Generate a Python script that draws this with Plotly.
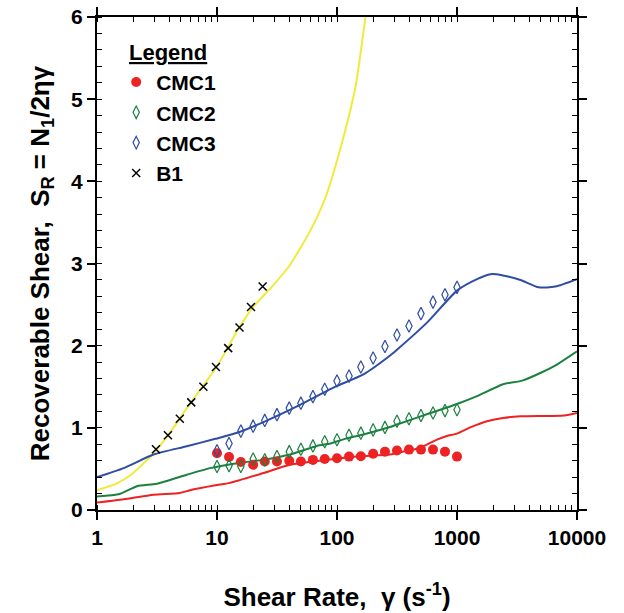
import plotly.graph_objects as go

# ---- data ----
b1_fit_x = [1, 1.5, 2, 3, 4, 6, 10, 15, 20, 30, 40, 60, 80, 110, 143, 175, 185]
b1_fit_y = [0.24, 0.33, 0.45, 0.70, 0.93, 1.30, 1.75, 2.20, 2.47, 2.75, 2.97, 3.40, 3.80, 4.47, 5.16, 6.06, 6.3]

b1_x = [3.1, 3.9, 4.9, 6.1, 7.7, 9.8, 12.4, 15.4, 19.2, 24]
b1_y = [0.74, 0.91, 1.11, 1.31, 1.50, 1.74, 1.97, 2.22, 2.47, 2.72]

cmc3_fit_x = [1, 1.67, 2.96, 5.6, 9.7, 14.7, 24.4, 46.4, 88, 100, 166, 277, 316, 562, 1000, 1468, 1900, 2420, 3380, 4800, 6600, 10000]
cmc3_fit_y = [0.40, 0.51, 0.675, 0.776, 0.866, 0.94, 1.07, 1.26, 1.47, 1.51, 1.65, 1.88, 1.95, 2.28, 2.67, 2.81, 2.87, 2.855, 2.80, 2.71, 2.72, 2.81]

cmc3_x = [10, 12.6, 15.8, 20, 25, 31.6, 40, 50, 63, 79, 100, 126, 158, 200, 251, 316, 398, 501, 631, 794, 1000]
cmc3_y = [0.72, 0.81, 0.96, 1.02, 1.09, 1.16, 1.24, 1.30, 1.38, 1.47, 1.57, 1.63, 1.74, 1.85, 1.99, 2.13, 2.24, 2.39, 2.53, 2.62, 2.71]

cmc2_fit_x = [1, 1.55, 2.15, 3.16, 5.6, 8.8, 14.7, 24.4, 40.6, 68, 88, 113, 166, 277, 316, 600, 1000, 1470, 2420, 3500, 5000, 6800, 10000]
cmc2_fit_y = [0.165, 0.195, 0.29, 0.32, 0.43, 0.51, 0.57, 0.61, 0.675, 0.78, 0.81, 0.86, 0.92, 1.01, 1.04, 1.18, 1.29, 1.385, 1.53, 1.575, 1.67, 1.77, 1.93]

cmc2_x = [10, 12.6, 15.8, 20, 25, 31.6, 40, 50, 63, 79, 100, 126, 158, 200, 251, 316, 398, 501, 631, 794, 1000]
cmc2_y = [0.53, 0.54, 0.53, 0.62, 0.61, 0.65, 0.71, 0.74, 0.78, 0.83, 0.855, 0.91, 0.935, 0.975, 1.005, 1.08, 1.11, 1.15, 1.18, 1.21, 1.22]

cmc1_fit_x = [1, 1.67, 2.96, 4.9, 5.96, 9.7, 12.8, 24.4, 40.6, 77, 146, 277, 316, 490, 681, 825, 1000, 1290, 1780, 2420, 3380, 7800, 10000]
cmc1_fit_y = [0.09, 0.13, 0.186, 0.207, 0.24, 0.30, 0.33, 0.45, 0.55, 0.605, 0.65, 0.675, 0.695, 0.755, 0.857, 0.90, 0.93, 1.005, 1.08, 1.12, 1.14, 1.15, 1.18]

cmc1_x = [10, 12.6, 15.8, 20, 25, 31.6, 40, 50, 63, 79, 100, 126, 158, 200, 251, 316, 398, 501, 631, 794, 1000]
cmc1_y = [0.69, 0.645, 0.585, 0.55, 0.59, 0.59, 0.60, 0.59, 0.61, 0.62, 0.63, 0.65, 0.655, 0.685, 0.71, 0.725, 0.735, 0.735, 0.735, 0.71, 0.65]

x_tickvals = [1, 10, 100, 1000, 10000]
x_ticktext = ["1", "10", "100", "1000", "10000"]
y_tickvals = [0, 1, 2, 3, 4, 5, 6]

RED = "#ee2222"
GREEN = "#1b8040"
BLUE = "#2e4da3"
YELLOW = "#f2ea3a"

fig = go.Figure()

# fitted lines
for fx, fy, c in [(b1_fit_x, b1_fit_y, YELLOW), (cmc3_fit_x, cmc3_fit_y, BLUE),
                  (cmc2_fit_x, cmc2_fit_y, GREEN), (cmc1_fit_x, cmc1_fit_y, RED)]:
    fig.add_trace(go.Scatter(x=fx, y=fy, mode="lines", line=dict(color=c, width=2, shape="spline", smoothing=0.6),
                             showlegend=False, hoverinfo="skip"))

# markers
fig.add_trace(go.Scatter(x=cmc1_x, y=cmc1_y, mode="markers", name="CMC1",
                         marker=dict(symbol="circle", size=10, color=RED, line=dict(width=0))))
fig.add_trace(go.Scatter(x=cmc2_x, y=cmc2_y, mode="markers", name="CMC2",
                         marker=dict(symbol="diamond-tall-open", size=9, color=GREEN, line=dict(width=1.2))))
fig.add_trace(go.Scatter(x=cmc3_x, y=cmc3_y, mode="markers", name="CMC3",
                         marker=dict(symbol="diamond-tall-open", size=9, color=BLUE, line=dict(width=1.2))))
fig.add_trace(go.Scatter(x=b1_x, y=b1_y, mode="markers", name="B1",
                         marker=dict(symbol="x-thin-open", size=8, color="black", line=dict(width=1.5))))

font_family = "Liberation Sans, Arial, sans-serif"

fig.update_layout(
    width=624, height=613,
    margin=dict(l=97, r=47, t=17, b=103),
    paper_bgcolor="white", plot_bgcolor="white",
    font=dict(family=font_family, color="black"),
    showlegend=True,
    legend=dict(x=0.04, y=0.909, xanchor="left", yanchor="top",
                font=dict(size=21, family=font_family, color="black", weight="bold"),
                bgcolor="rgba(0,0,0,0)", borderwidth=0, tracegroupgap=0, itemwidth=30),
    annotations=[dict(text="<b><u>Legend</u></b>", x=0.062, y=0.928, xref="paper", yref="paper",
                      xanchor="left", yanchor="middle", showarrow=False,
                      font=dict(size=22, family=font_family, color="black"))],
)

fig.update_xaxes(
    type="log", range=[0, 4], automargin=False,
    tickvals=x_tickvals, ticktext=x_ticktext,
    tickfont=dict(size=21, family=font_family, weight="bold"),
    ticks="outside", ticklen=8, tickwidth=2, tickcolor="black",
    minor=dict(ticks="inside", ticklen=5, tickwidth=1, tickcolor="black", dtick="D1", showgrid=False),
    showline=True, linewidth=2, linecolor="black", mirror="ticks",
    showgrid=False, zeroline=False,
    title=dict(text="<b>Shear Rate,  γ (s<sup>-1</sup>)</b>", font=dict(size=26, family=font_family), standoff=40),
)
fig.update_yaxes(
    range=[0, 6], automargin=False,
    tickvals=y_tickvals,
    tickfont=dict(size=21, family=font_family, weight="bold"),
    ticks="outside", ticklen=8, tickwidth=2, tickcolor="black",
    minor=dict(ticks="inside", ticklen=5, tickwidth=1, tickcolor="black", dtick=0.2, showgrid=False),
    showline=True, linewidth=2, linecolor="black", mirror="ticks",
    showgrid=False, zeroline=False,
    title=dict(text="<b>Recoverable Shear,  S<sub>R</sub> = N<sub>1</sub>/2ηγ</b>", font=dict(size=26, family=font_family), standoff=14),
)

fig.write_html("out.html")
